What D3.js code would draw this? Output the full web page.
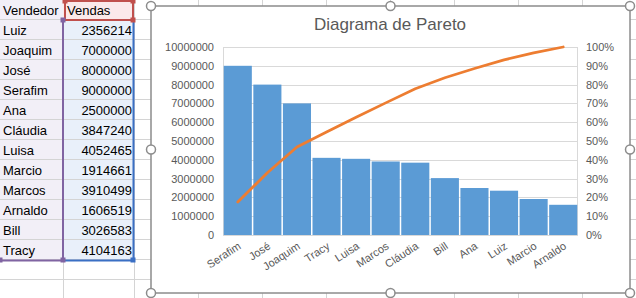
<!DOCTYPE html>
<html>
<head>
<meta charset="utf-8">
<script src="https://cdnjs.cloudflare.com/ajax/libs/d3/7.8.5/d3.min.js"></script>
<style>
  html, body { margin: 0; padding: 0; background: #fff; }
  svg { display: block; font-family: "Liberation Sans", Arial, sans-serif; }
</style>
</head>
<body>
<div id="viz"></div>
<script>
// sheet data (in sheet order)
var vendedores = ['Luiz', 'Joaquim', 'José', 'Serafim', 'Ana', 'Cláudia', 'Luisa', 'Marcio', 'Marcos', 'Arnaldo', 'Bill', 'Tracy'];
var vendas = [2356214, 7000000, 8000000, 9000000, 2500000, 3847240, 4052465, 1914661, 3910499, 1606519, 3026583, 4104163];
var headers = ['Vendedor', 'Vendas'];
var chartTitle = 'Diagrama de Pareto';
var leftTicks = [0, 1000000, 2000000, 3000000, 4000000, 5000000, 6000000, 7000000, 8000000, 9000000, 10000000];
var rightTicks = [0, 0.1, 0.2, 0.3, 0.4, 0.5, 0.6, 0.7, 0.8, 0.9, 1];

var W = 636, H = 298;
var svg = d3.select('#viz').append('svg')
  .attr('width', W)
  .attr('height', H);

// ---- spreadsheet background ----
var rowH = 20;
var colA = 64, colB = 135;
var grid = svg.append('g').attr('id', 'grid');

// cell fills
grid.append('rect').attr('x', 0).attr('y', 0).attr('width', colA).attr('height', 260).attr('fill', '#f2eff7');
grid.append('rect').attr('x', colA).attr('y', 20).attr('width', colB - colA).attr('height', 240).attr('fill', '#e9f0fa');
grid.append('rect').attr('x', colA).attr('y', 0).attr('width', colB - colA).attr('height', 20).attr('fill', '#fbe9ea');

for (var r = 1; r <= 15; r++) {
  grid.append('line')
    .attr('x1', 0).attr('x2', W)
    .attr('y1', r * rowH - 0.5).attr('y2', r * rowH - 0.5)
    .attr('stroke', '#d4d4d4');
}
var colLines = [colA, colB];
for (var c = 1; c < 9; c++) colLines.push(colB + c * 64);
colLines.forEach(function (x) {
  grid.append('line')
    .attr('x1', x - 0.5).attr('x2', x - 0.5)
    .attr('y1', 0).attr('y2', H)
    .attr('stroke', '#d4d4d4');
});

// cell texts
var cells = svg.append('g').attr('font-size', '13px').attr('fill', '#000');
cells.append('text').attr('x', 3).attr('y', 15).text(headers[0]);
cells.append('text').attr('x', colA + 3).attr('y', 15).text(headers[1]);
vendedores.forEach(function (v, i) {
  cells.append('text').attr('x', 3).attr('y', 35 + i * rowH).text(v);
  cells.append('text').attr('x', colB - 3).attr('y', 35 + i * rowH)
    .attr('text-anchor', 'end').text(vendas[i]);
});
// clip the header text of column A
cells.select('text').attr('textLength', null);
grid.append('rect').attr('x', colA - 1).attr('y', 0).attr('width', 2).attr('height', 20).attr('fill', '#fbe9ea');

// selection borders
var sel = svg.append('g');
sel.append('path').attr('d', 'M' + (colA - 1) + ',20V260.5H0').attr('fill', 'none').attr('stroke', '#8064a2').attr('stroke-width', 2);
sel.append('rect').attr('x', colA + 1).attr('y', 1).attr('width', colB - colA - 3).attr('height', 19)
  .attr('fill', 'none').attr('stroke', '#c0504d').attr('stroke-width', 2);
sel.append('path').attr('d', 'M' + (colB - 1.5) + ',21V260.5H' + (colA + 1)).attr('fill', 'none').attr('stroke', '#3a6fc4').attr('stroke-width', 2);
[[colA - 1, 20, '#8064a2'], [colA - 1, 260, '#8064a2'], [0, 260, '#8064a2'],
 [colA + 1, 1, '#c0504d'], [colB - 2, 1, '#c0504d'], [colB - 2, 20, '#c0504d'],
 [colB - 2, 260, '#3a6fc4']].forEach(function (h) {
  sel.append('rect').attr('x', h[0] - 2.5).attr('y', h[1] - 2.5).attr('width', 5).attr('height', 5).attr('fill', h[2]);
});

// ---- chart ----
var box = { x: 151, y: 6, w: 479, h: 287 };
var plot = { left: 223, right: 578, top: 47, bottom: 235 };

var chart = svg.append('g').attr('id', 'chart');
chart.append('rect')
  .attr('x', box.x).attr('y', box.y).attr('width', box.w).attr('height', box.h)
  .attr('fill', '#fff').attr('stroke', '#8c8c8c').attr('stroke-width', 1.5);

chart.append('text')
  .attr('x', 390).attr('y', 30)
  .attr('text-anchor', 'middle')
  .attr('font-size', '17px')
  .attr('fill', '#595959')
  .text(chartTitle);

// sort descending and accumulate
var sorted = vendedores.map(function (v, i) { return { name: v, value: vendas[i] }; })
  .sort(function (a, b) { return b.value - a.value; });
var total = d3.sum(sorted, function (d) { return d.value; });
var acc = 0;
sorted.forEach(function (d) { acc += d.value; d.cum = acc / total; });

var x = d3.scaleBand().domain(sorted.map(function (d) { return d.name; }))
  .range([plot.left, plot.right]).padding(0);
var y = d3.scaleLinear().domain([0, 10000000]).range([plot.bottom, plot.top]);
var yp = d3.scaleLinear().domain([0, 1]).range([plot.bottom, plot.top]);

// gridlines
chart.append('g').selectAll('line')
  .data(leftTicks)
  .enter().append('line')
  .attr('x1', plot.left).attr('x2', plot.right)
  .attr('y1', function (d) { return Math.round(y(d)) + 0.5; })
  .attr('y2', function (d) { return Math.round(y(d)) + 0.5; })
  .attr('stroke', '#d9d9d9');
chart.append('line').attr('x1', plot.left + 0.5).attr('x2', plot.left + 0.5)
  .attr('y1', plot.top).attr('y2', plot.bottom).attr('stroke', '#d9d9d9');
chart.append('line').attr('x1', plot.right - 0.5).attr('x2', plot.right - 0.5)
  .attr('y1', plot.top).attr('y2', plot.bottom).attr('stroke', '#d9d9d9');

// bars
chart.append('g').selectAll('.bar')
  .data(sorted)
  .enter().append('rect')
  .attr('class', 'bar')
  .attr('x', function (d) { return x(d.name) + 0.75; })
  .attr('width', x.bandwidth() - 1.5)
  .attr('y', function (d) { return y(d.value); })
  .attr('height', function (d) { return plot.bottom - y(d.value); })
  .attr('fill', '#5b9bd5');

// cumulative line
var line = d3.line()
  .x(function (d) { return x(d.name) + x.bandwidth() / 2; })
  .y(function (d) { return yp(d.cum); });
chart.append('path')
  .datum(sorted)
  .attr('d', line)
  .attr('fill', 'none')
  .attr('stroke', '#ed7d31')
  .attr('stroke-width', 2.75)
  .attr('stroke-linejoin', 'round')
  .attr('stroke-linecap', 'round');

// axes
var yAxis = chart.append('g')
  .attr('transform', 'translate(' + (plot.left - 9) + ',0)')
  .call(d3.axisLeft(y).tickValues(leftTicks).tickFormat(d3.format('d')).tickSize(0).tickPadding(0));
var yAxisR = chart.append('g')
  .attr('transform', 'translate(' + (plot.right + 8) + ',0)')
  .call(d3.axisRight(yp).tickValues(rightTicks).tickFormat(d3.format('.0%')).tickSize(0).tickPadding(0));
var xAxis = chart.append('g')
  .attr('transform', 'translate(0,' + plot.bottom + ')')
  .call(d3.axisBottom(x).tickSize(0).tickPadding(0));

[yAxis, yAxisR, xAxis].forEach(function (a) {
  a.select('.domain').remove();
  a.selectAll('text').attr('fill', '#595959').attr('font-size', '11px')
    .attr('font-family', '"Liberation Sans", Arial, sans-serif');
});
xAxis.select('.domain').remove();
xAxis.append('line').attr('x1', plot.left).attr('x2', plot.right)
  .attr('y1', 0.5).attr('y2', 0.5).attr('stroke', '#d9d9d9');
xAxis.selectAll('.tick text')
  .attr('text-anchor', 'end')
  .attr('dy', 0)
  .attr('transform', 'translate(4,13) rotate(-33)');

// chart handles
var hx = [box.x, box.x + box.w / 2, box.x + box.w];
var hy = [box.y, box.y + box.h / 2, box.y + box.h];
hx.forEach(function (px, i) {
  hy.forEach(function (py, j) {
    if (i === 1 && j === 1) return;
    chart.append('circle').attr('cx', px).attr('cy', py).attr('r', 4.5)
      .attr('fill', '#fff').attr('stroke', '#8c8c8c').attr('stroke-width', 1.5);
  });
});
</script>
</body>
</html>
